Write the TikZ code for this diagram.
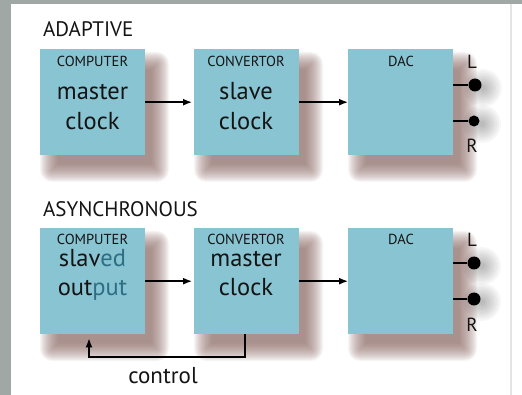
\documentclass[tikz,border=0pt]{standalone}
\usepackage{fontspec}
\setmainfont{PT Sans}
\usetikzlibrary{arrows.meta}
\definecolor{boxblue}{HTML}{88C4D2}
\definecolor{shadowbrown}{HTML}{8E6C66}
\definecolor{framegray}{HTML}{A0A8A5}
\definecolor{inktext}{HTML}{141414}
\definecolor{tealink}{HTML}{2E6E84}
\tikzset{
  unitbox/.style={fill=boxblue, draw=none, minimum width=105pt, minimum height=106pt,
    inner sep=0pt, anchor=north west},
  boxcap/.style={font=\fontsize{14.5}{14.5}\selectfont, text=inktext, inner sep=0pt},
  boxmain/.style={font=\fontsize{24.5}{24.5}\selectfont, text=inktext, anchor=base, inner sep=0pt},
  rowtitle/.style={font=\fontsize{21}{21}\selectfont, text=inktext, anchor=base west, inner sep=0pt},
  chan/.style={font=\fontsize{19}{19}\selectfont, text=inktext, inner sep=0pt},
  jack/.style={circle, fill=black, inner sep=0pt, minimum size=13pt},
  signal/.style={draw=black, line width=1.4pt, -{Latex[length=9pt,width=7pt]}},
  wire/.style={draw=black, line width=1.4pt},
}
% soft drop shadow under a box given by its corners (x1,y1) and (x2,y2)
\newcommand\boxshadow[4]{%
  \foreach \e in {-6,-5,...,12}{%
    \pgfmathsetmacro\rc{max(\e,0.1)}%
    \fill[shadowbrown, opacity=0.062, rounded corners=\rc pt]
      ({#1+12-(\e)},{#2+15-(\e)}) rectangle ({#3+12+(\e)},{#4+15+(\e)});
  }%
}
% soft grey halo behind an output jack
\newcommand\jackhalo[2]{%
  \foreach \r in {3,5,...,19}{%
    \fill[black, opacity=0.03] ({#1+8},{#2+3}) circle (\r pt);
  }%
}
\begin{document}
\begin{tikzpicture}[x=1pt, y=-1pt]
\useasboundingbox (0,0) rectangle (522,395);
% page and frame
\fill[white] (0,0) rectangle (522,395);
\fill[framegray] (0,0) rectangle (11,395);
\fill[framegray] (0,0) rectangle (522,4);
\fill[framegray!30] (510,4) rectangle (512,395);

% shadows
\boxshadow{40}{49}{145}{155}
\boxshadow{194}{49}{299}{155}
\boxshadow{348}{49}{453}{155}
\boxshadow{40}{228}{145}{334}
\boxshadow{194}{228}{299}{334}
\boxshadow{348}{228}{453}{334}
\jackhalo{475}{85}
\jackhalo{474}{121}
\jackhalo{474}{263}
\jackhalo{474}{299}

% row titles
\node[rowtitle] (tadapt) at (43,37) {ADAPTIVE};
\node[rowtitle] (tasync) at (43,217) {ASYNCHRONOUS};

% adaptive row
\node[unitbox] (pc1) at (40,49) {};
\node[unitbox] (cv1) at (194,49) {};
\node[unitbox] (dac1) at (348,49) {};
\node[boxcap] (pc1cap) at (92.5,61) {COMPUTER};
\node[boxmain] (pc1a) at (92.5,100) {master};
\node[boxmain] (pc1b) at (92.5,130) {clock};
\node[boxcap] (cv1cap) at (246,61) {CONVERTOR};
\node[boxmain] (cv1a) at (246,100) {slave};
\node[boxmain] (cv1b) at (246,130) {clock};
\node[boxcap] (dac1cap) at (401,61) {DAC};

\node[chan] (l1) at (472,62) {L};
\node[jack] (jl1) at (475,85) {};
\node[jack, minimum size=11pt] (jr1) at (474,121) {};
\node[chan] (r1) at (472,146) {R};
\draw[wire] (dac1.east |- jl1) -- (jl1);
\draw[wire] (dac1.east |- jr1) -- (jr1);

\draw[signal] (pc1.east) -- ([xshift=-2pt]cv1.west);
\draw[signal] (cv1.east) -- (dac1.west);

% asynchronous row
\node[unitbox] (pc2) at (40,228) {};
\node[unitbox] (cv2) at (194,228) {};
\node[unitbox] (dac2) at (348,228) {};
\node[boxcap] (pc2cap) at (92.5,239.5) {COMPUTER};
\node[boxmain] (pc2a) at (92.5,267) {slav\textcolor{tealink}{ed}};
\node[boxmain] (pc2b) at (92.5,296) {out\textcolor{tealink}{put}};
\node[boxcap] (cv2cap) at (246,239.5) {CONVERTOR};
\node[boxmain] (cv2a) at (246,267) {master};
\node[boxmain] (cv2b) at (246,296) {clock};
\node[boxcap] (dac2cap) at (401,239.5) {DAC};

\node[chan] (l2) at (472,240) {L};
\node[jack] (jl2) at (474,263) {};
\node[jack] (jr2) at (474,299) {};
\node[chan] (r2) at (472,325) {R};
\draw[wire] (dac2.east |- jl2) -- (jl2);
\draw[wire] (dac2.east |- jr2) -- (jr2);

\draw[signal] (pc2.east) -- ([xshift=-2pt]cv2.west);
\draw[signal] (cv2.east) -- (dac2.west);

% control feedback loop
\coordinate (cbl) at (89,357);
\coordinate (cbr) at (245,357);
\draw[signal, shorten >=4pt] (cbr |- cv2.south) -- (cbr) -- (cbl) -- (cbl |- pc2.south);
\node[font=\fontsize{23}{23}\selectfont, text=inktext, inner sep=0pt] (ctl) at (163,376) {control};
\end{tikzpicture}
\end{document}
